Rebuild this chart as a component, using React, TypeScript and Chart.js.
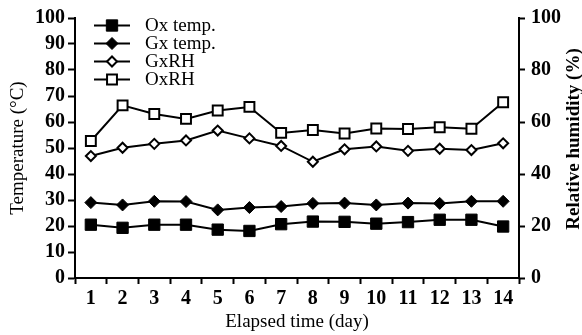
import React, { useEffect, useRef } from "react";
import { Chart, registerables } from "chart.js";
import { drawPoint } from "chart.js/helpers";

Chart.register(...registerables);

const days = ["1", "2", "3", "4", "5", "6", "7", "8", "9", "10", "11", "12", "13", "14"];
const oxTemp = [20.5, 19.3, 20.5, 20.5, 18.6, 18.1, 20.7, 21.7, 21.6, 20.9, 21.5, 22.4, 22.4, 19.8];
const gxTemp = [29.0, 28.1, 29.5, 29.4, 26.2, 27.1, 27.5, 28.7, 28.8, 28.1, 28.8, 28.7, 29.5, 29.5];
const gxRH = [46.9, 50.1, 51.6, 52.9, 56.7, 53.7, 50.8, 44.7, 49.5, 50.6, 48.9, 49.7, 49.2, 51.8];
const oxRH = [52.7, 66.4, 63.1, 61.2, 64.4, 65.8, 55.8, 56.9, 55.6, 57.5, 57.3, 58.0, 57.4, 67.6];

const leftTitle = "Temperature (\u00B0C)";
const rightTitle = "Relative humidity (%)";
const xTitle = "Elapsed time (day)";

const SERIF = "'Liberation Serif', 'Times New Roman', serif";

const customPlugin = {
  id: "custom",
  afterDraw(chart: any) {
    const ctx = chart.ctx;
    ctx.save();
    // legend
    chart.data.datasets.forEach((ds: any, i: number) => {
      const y = 25.5 + i * 18;
      ctx.strokeStyle = "#000";
      ctx.lineWidth = 2;
      ctx.beginPath();
      ctx.moveTo(94, y);
      ctx.lineTo(130, y);
      ctx.stroke();
      ctx.fillStyle = ds.pointBackgroundColor;
      ctx.strokeStyle = "#000";
      ctx.lineWidth = ds.pointBorderWidth;
      drawPoint(ctx, { pointStyle: ds.pointStyle, radius: ds.pointRadius, rotation: 0, borderWidth: ds.pointBorderWidth }, 112, y);
      ctx.fillStyle = "#000";
      ctx.font = `19px ${SERIF}`;
      ctx.textAlign = "left";
      ctx.textBaseline = "middle";
      ctx.fillText(ds.label, 145, y + 1);
    });
    // axis titles
    ctx.fillStyle = "#000";
    ctx.textAlign = "center";
    ctx.textBaseline = "middle";
    ctx.font = `19px ${SERIF}`;
    ctx.fillText(xTitle, 297, 322);
    ctx.save();
    ctx.translate(18, 148);
    ctx.rotate(-Math.PI / 2);
    ctx.fillText(leftTitle, 0, 0);
    ctx.restore();
    ctx.save();
    ctx.font = `bold 19px ${SERIF}`;
    ctx.translate(574, 139);
    ctx.rotate(-Math.PI / 2);
    ctx.fillText(rightTitle, 0, 0);
    ctx.restore();
    ctx.restore();
  },
};

export default function App() {
  const ref = useRef<HTMLCanvasElement>(null);
  useEffect(() => {
    if (!ref.current) return;
    const tickFont = { family: SERIF, size: 20, weight: "bold" as const };
    const mk = (label: string, data: number[], style: string, r: number, fill: string, bw: number, axis: string) => ({
      label,
      data,
      yAxisID: axis,
      borderColor: "#000",
      borderWidth: 2,
      pointStyle: style,
      pointRadius: r,
      pointHoverRadius: r,
      pointBackgroundColor: fill,
      pointBorderColor: "#000",
      pointBorderWidth: bw,
      tension: 0,
      fill: false,
    });
    const chart = new Chart(ref.current, {
      type: "line",
      data: {
        labels: days,
        datasets: [
          mk("Ox temp.", oxTemp, "rect", 8, "#000", 1, "y"),
          mk("Gx temp.", gxTemp, "rectRot", 6, "#000", 1, "y"),
          mk("GxRH", gxRH, "rectRot", 5, "#fff", 2, "y1"),
          mk("OxRH", oxRH, "rect", 7, "#fff", 2, "y1"),
        ] as any,
      },
      options: {
        animation: false,
        responsive: false,
        maintainAspectRatio: false,
        layout: { padding: { top: 16, left: 0, right: 0, bottom: 0 } },
        plugins: { legend: { display: false }, tooltip: { enabled: false } },
        scales: {
          x: {
            type: "category",
            offset: true,
            grid: { display: true, drawOnChartArea: false, offset: true, tickLength: 6, tickWidth: 2, tickColor: "#000", color: "#000" },
            border: { display: true, width: 2, color: "#000" },
            ticks: { font: tickFont, color: "#000", padding: 3, maxRotation: 0, autoSkip: false },
            afterFit: (s: any) => { s.height = 57; },
          },
          y: {
            position: "left",
            min: 0,
            max: 100,
            grid: { display: true, drawOnChartArea: false, tickLength: 7, tickWidth: 2, tickColor: "#000", color: "#000" },
            border: { display: true, width: 2, color: "#000" },
            ticks: { stepSize: 10, font: tickFont, color: "#000", padding: 3, autoSkip: false },
            afterFit: (s: any) => { s.width = 75; },
          },
          y1: {
            position: "right",
            min: 0,
            max: 100,
            grid: { display: true, drawOnChartArea: false, tickLength: 6, tickWidth: 2, tickColor: "#000", color: "#000" },
            border: { display: true, width: 2, color: "#000" },
            ticks: { stepSize: 20, font: tickFont, color: "#000", padding: 6, autoSkip: false },
            afterFit: (s: any) => { s.width = 63; },
          },
        },
      } as any,
      plugins: [customPlugin],
    });
    return () => chart.destroy();
  }, []);
  return (
    <div style={{ position: "fixed", left: 0, top: 0, width: 582, height: 335, background: "#fff" }}>
      <canvas ref={ref} width={582} height={335} style={{ width: 582, height: 335, display: "block" }} />
    </div>
  );
}
